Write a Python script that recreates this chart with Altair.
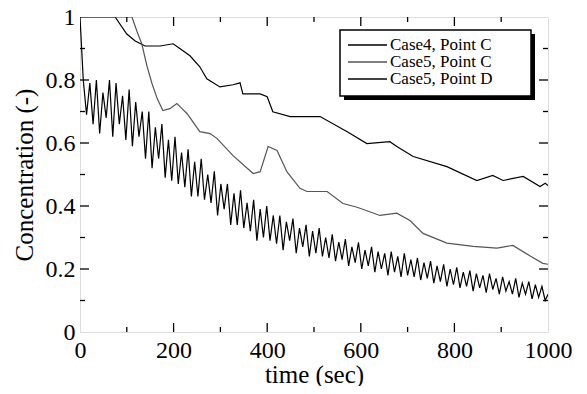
import altair as alt
import pandas as pd

# ---------------- data ----------------
series_names = ["Case4, Point C", "Case5, Point C", "Case5, Point D"]
series_colors = ["#000000", "#555555", "#000000"]

# Case4, Point C (upper smooth curve)
t_upper = [0, 75, 100, 118, 139, 171, 199, 214, 235, 256, 271, 299, 327, 342, 348,
           385, 400, 412, 449, 513, 571, 613, 662, 677, 712, 784, 848, 882, 904,
           947, 983, 994, 1000]
c_upper = [1.0, 1.0, 0.946, 0.924, 0.908, 0.908, 0.915, 0.899, 0.877, 0.842, 0.804,
           0.778, 0.785, 0.791, 0.756, 0.756, 0.747, 0.699, 0.684, 0.684, 0.636,
           0.598, 0.604, 0.589, 0.557, 0.525, 0.481, 0.497, 0.481, 0.494, 0.462,
           0.472, 0.465]

# Case5, Point C (middle smooth curve)
t_mid = [0, 111, 122, 132, 143, 154, 165, 177, 192, 207, 218, 229, 256, 278, 293,
         327, 370, 385, 402, 421, 442, 470, 485, 528, 562, 592, 641, 677, 705,
         733, 784, 840, 891, 925, 962, 989, 1000]
c_mid = [1.0, 1.0, 0.953, 0.915, 0.845, 0.788, 0.741, 0.703, 0.709, 0.725, 0.709,
         0.693, 0.636, 0.630, 0.614, 0.560, 0.503, 0.509, 0.589, 0.576, 0.509,
         0.456, 0.446, 0.446, 0.408, 0.396, 0.370, 0.377, 0.354, 0.313, 0.282,
         0.272, 0.266, 0.275, 0.241, 0.218, 0.215]

# Case5, Point D (oscillating curve)
t_osc = [0, 7, 14, 21, 28, 35, 42, 49, 56, 63, 70, 77, 84, 91, 98, 105, 112, 119,
         126, 133, 140, 147, 154, 161, 168, 175, 182, 189, 196, 203, 210, 217, 224,
         231, 238, 245, 252, 259, 266, 273, 280, 287, 294, 301, 308, 315, 322, 329,
         336, 343, 350, 357, 364, 371, 378, 385, 392, 399, 406, 413, 420, 427, 434,
         441, 448, 455, 462, 469, 476, 483, 490, 497, 504, 511, 518, 525, 532, 539,
         546, 553, 560, 567, 574, 581, 588, 595, 602, 609, 616, 623, 630, 637, 644,
         651, 658, 665, 672, 679, 686, 693, 700, 707, 714, 721, 728, 735, 742, 749,
         756, 763, 770, 777, 784, 791, 798, 805, 812, 819, 826, 833, 840, 847, 854,
         861, 868, 875, 882, 889, 896, 903, 910, 917, 924, 931, 938, 945, 952, 959,
         966, 973, 980, 987, 994, 1000]
c_osc = [1.00, 0.80, 0.69, 0.79, 0.66, 0.80, 0.63, 0.76, 0.68, 0.80, 0.62, 0.79,
         0.66, 0.75, 0.61, 0.77, 0.59, 0.73, 0.62, 0.70, 0.55, 0.70, 0.52, 0.65,
         0.55, 0.66, 0.49, 0.61, 0.48, 0.62, 0.47, 0.57, 0.46, 0.58, 0.43, 0.54,
         0.43, 0.55, 0.42, 0.50, 0.41, 0.51, 0.37, 0.47, 0.39, 0.47, 0.34, 0.44,
         0.34, 0.45, 0.33, 0.41, 0.32, 0.42, 0.29, 0.39, 0.30, 0.40, 0.29, 0.37,
         0.28, 0.37, 0.26, 0.35, 0.29, 0.36, 0.25, 0.33, 0.27, 0.34, 0.24, 0.32,
         0.25, 0.33, 0.24, 0.30, 0.235, 0.31, 0.225, 0.285, 0.23, 0.295, 0.21, 0.27,
         0.22, 0.285, 0.20, 0.26, 0.21, 0.27, 0.19, 0.255, 0.20, 0.25, 0.18,
         0.255, 0.19, 0.24, 0.175, 0.25, 0.18, 0.23, 0.175, 0.235, 0.165, 0.22,
         0.17, 0.225, 0.155, 0.21, 0.16, 0.215, 0.145, 0.20, 0.15, 0.205, 0.14,
         0.19, 0.145, 0.195, 0.13, 0.185, 0.14, 0.18, 0.125, 0.185, 0.135, 0.17,
         0.12, 0.175, 0.13, 0.16, 0.12, 0.17, 0.11, 0.155, 0.12, 0.16, 0.105,
         0.15, 0.11, 0.145, 0.10, 0.12]

x_major = [200, 400, 600, 800]
x_minor = [100, 300, 500, 700, 900]
y_major = [0.2, 0.4, 0.6, 0.8]
y_minor = [0.1, 0.3, 0.5, 0.7, 0.9]
x_labels = [0, 200, 400, 600, 800, 1000]
y_labels = [0, 0.2, 0.4, 0.6, 0.8, 1]

# ---------------- frames ----------------
rows = []
for t, c in zip(t_upper, c_upper):
    rows.append({"t": t, "c": c, "s": series_names[0], "o": 2})
for t, c in zip(t_mid, c_mid):
    rows.append({"t": t, "c": c, "s": series_names[1], "o": 1})
for t, c in zip(t_osc, c_osc):
    rows.append({"t": t, "c": c, "s": series_names[2], "o": 0})
df = pd.DataFrame(rows)

W, H = 468, 315
FONT = "serif"

xs = alt.Scale(domain=[0, 1000], nice=False, zero=False)
ys = alt.Scale(domain=[0, 1], nice=False, zero=False)
cs = alt.Scale(domain=series_names, range=series_colors)

x_axis = alt.Axis(values=x_labels, format="d", ticks=False, domain=False,
                  grid=False, labelFont=FONT, labelFontSize=24,
                  labelColor="black", labelPadding=6, labelFlush=False,
                  title="time (sec)", titleFont=FONT, titleFontSize=25,
                  titleFontWeight="normal", titleColor="black", titlePadding=0)
y_axis = alt.Axis(values=y_labels, format="~g", ticks=False, domain=False,
                  grid=False, labelFont=FONT, labelFontSize=24,
                  labelColor="black", labelPadding=5, labelFlush=False,
                  title="Concentration (-)", titleFont=FONT, titleFontSize=25,
                  titleFontWeight="normal", titleColor="black", titlePadding=8)

lines = alt.Chart(df).mark_line(strokeWidth=1.2, clip=True).encode(
    x=alt.X("t:Q", scale=xs, axis=x_axis),
    y=alt.Y("c:Q", scale=ys, axis=y_axis),
    color=alt.Color("s:N", scale=cs, legend=None),
    detail="s:N",
    order="o:Q",
)

xmaj = pd.DataFrame({"v": x_major})
xmin = pd.DataFrame({"v": x_minor})
ymaj = pd.DataFrame({"v": y_major})
ymin = pd.DataFrame({"v": y_minor})


def xticks(d, length):
    b = alt.Chart(d).mark_rule(color="black", strokeWidth=1.3).encode(
        x=alt.X("v:Q", scale=xs, axis=x_axis), y=alt.value(H),
        y2=alt.value(H - length))
    t = alt.Chart(d).mark_rule(color="black", strokeWidth=1.3).encode(
        x=alt.X("v:Q", scale=xs, axis=x_axis), y=alt.value(0),
        y2=alt.value(length))
    return b + t


def yticks(d, length):
    l = alt.Chart(d).mark_rule(color="black", strokeWidth=1.3).encode(
        y=alt.Y("v:Q", scale=ys, axis=y_axis), x=alt.value(0),
        x2=alt.value(length))
    r = alt.Chart(d).mark_rule(color="black", strokeWidth=1.3).encode(
        y=alt.Y("v:Q", scale=ys, axis=y_axis), x=alt.value(W),
        x2=alt.value(W - length))
    return l + r


ticks = xticks(xmaj, 9) + xticks(xmin, 5) + yticks(ymaj, 9) + yticks(ymin, 5)

# ---------------- legend ----------------
one = pd.DataFrame({"a": [0]})
shadow = alt.Chart(one).mark_rect(color="black").encode(
    x=alt.value(264), x2=alt.value(455), y=alt.value(17), y2=alt.value(83))
box = alt.Chart(one).mark_rect(fill="white", stroke="black", strokeWidth=1.5).encode(
    x=alt.value(260), x2=alt.value(451), y=alt.value(13), y2=alt.value(79))

leg_df = pd.DataFrame({"s": series_names, "i": list(range(len(series_names)))})
leg_base = alt.Chart(leg_df).transform_calculate(ly="28 + 17 * datum.i")
leg_lines = leg_base.mark_rule(strokeWidth=1.3).encode(
    x=alt.value(268), x2=alt.value(307),
    y=alt.Y("ly:Q", scale=None),
    color=alt.Color("s:N", scale=cs, legend=None))
leg_text = leg_base.mark_text(align="left", baseline="middle", font=FONT,
                              fontSize=17, color="black").encode(
    x=alt.value(310), y=alt.Y("ly:Q", scale=None), text="s:N")

chart = alt.layer(lines, ticks, shadow, box, leg_lines, leg_text).properties(
    width=W, height=H,
    autosize=alt.AutoSizeParams(type="none"),
    padding={"left": 72, "top": 9, "right": 30, "bottom": 54},
).configure_view(stroke="black", strokeWidth=1.5).configure_axis(
    labelFont=FONT, titleFont=FONT
).configure(background="white")

chart.save("out.html", embed_options={"renderer": "svg", "actions": False})
